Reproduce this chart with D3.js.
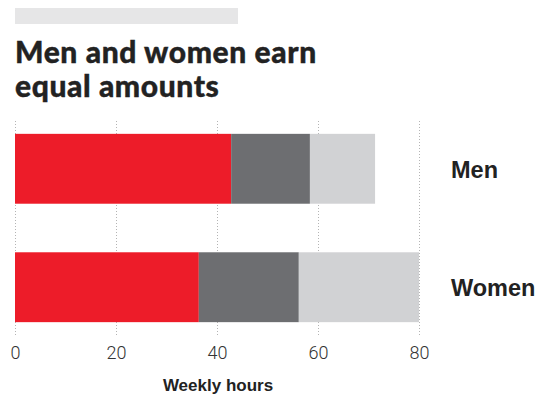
<!DOCTYPE html>
<html>
<head>
<meta charset="utf-8">
<script src="https://cdn.jsdelivr.net/npm/d3@7"></script>
<style>
  html, body { margin: 0; padding: 0; background: #fff; }
  svg { display: block; }
</style>
</head>
<body>
<svg id="chart" width="544" height="397"></svg>
<script>
// Weekly hours, split into three stacked components
const groups = ["Men", "Women"];
const seriesKeys = ["a", "b", "c"];
const seriesA = [42.8, 36.4];
const seriesB = [15.6, 19.8];
const seriesC = [12.9, 23.8];
const tickValues = [0, 20, 40, 60, 80];
const colors = ["#ed1c29", "#6d6e71", "#d1d2d4"];

const rows = groups.map((g, i) => ({ group: g, a: seriesA[i], b: seriesB[i], c: seriesC[i] }));
const stacked = d3.stack().keys(seriesKeys)(rows);

const svg = d3.select("#chart");

// Header strip
svg.append("rect")
  .attr("x", 15).attr("y", 8).attr("width", 223).attr("height", 16)
  .attr("fill", "#e6e6e7");

// Title, two lines
const titleLines = ["Men and women earn", "equal amounts"];
svg.append("g")
  .selectAll("text")
  .data(titleLines)
  .join("text")
  .attr("x", 15)
  .attr("y", (d, i) => 63 + i * 34)
  .attr("font-family", "Lato, 'Open Sans', sans-serif")
  .attr("font-weight", 900)
  .attr("font-size", 30)
  .attr("letter-spacing", 0.6)
  .attr("fill", "#222")
  .attr("stroke", "#222")
  .attr("stroke-width", 0.4)
  .text(d => d);

const x = d3.scaleLinear().domain([0, 80]).range([15, 419]);
const y = d3.scaleBand().domain(groups).range([122, 334]).paddingInner(0.41).paddingOuter(0.1);

// Dotted vertical gridlines
svg.append("g")
  .selectAll("line")
  .data(tickValues)
  .join("line")
  .attr("x1", d => Math.round(x(d)) + 0.5)
  .attr("x2", d => Math.round(x(d)) + 0.5)
  .attr("y1", 121)
  .attr("y2", 335)
  .attr("stroke", "#b4b4b4")
  .attr("stroke-width", 1)
  .attr("stroke-dasharray", "1,2");

// Stacked bars
svg.append("g")
  .selectAll("g")
  .data(stacked)
  .join("g")
  .attr("fill", (d, i) => colors[i])
  .selectAll("rect")
  .data(d => d)
  .join("rect")
  .attr("x", d => x(d[0]))
  .attr("width", d => x(d[1]) - x(d[0]))
  .attr("y", d => y(d.data.group))
  .attr("height", y.bandwidth());

// Category labels at right
svg.append("g")
  .selectAll("text")
  .data(groups)
  .join("text")
  .attr("x", 451)
  .attr("y", d => y(d) + y.bandwidth() / 2 + 9)
  .attr("font-family", "'Liberation Sans', Arial, sans-serif")
  .attr("font-weight", 700)
  .attr("font-size", 23.5)
  .attr("fill", "#222")
  .text(d => d);

// X axis
const axis = svg.append("g")
  .attr("transform", "translate(0,359)")
  .call(d3.axisBottom(x).tickValues(tickValues).tickSize(0).tickPadding(0).tickFormat(d3.format("d")));
axis.select(".domain").remove();
axis.selectAll("text")
  .attr("dy", 0)
  .attr("y", 0)
  .attr("font-family", "Roboto, sans-serif")
  .attr("font-weight", 300)
  .attr("font-size", 18)
  .attr("fill", "#333");

// Axis title
svg.append("text")
  .attr("x", 218)
  .attr("y", 391)
  .attr("text-anchor", "middle")
  .attr("font-family", "'Liberation Sans', Arial, sans-serif")
  .attr("font-weight", 700)
  .attr("font-size", 17)
  .attr("fill", "#222")
  .text("Weekly hours");
</script>
</body>
</html>
